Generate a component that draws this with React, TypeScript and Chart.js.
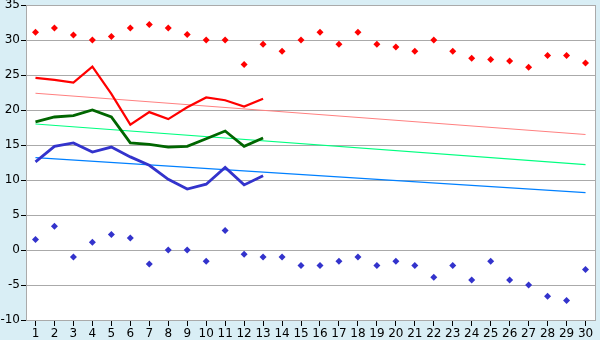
import React, { useEffect, useRef } from "react";
import { Chart, registerables } from "chart.js";

Chart.register(...registerables);

const days = Array.from({ length: 30 }, (_, i) => String(i + 1));

const recordMax = [31.1, 31.7, 30.7, 30.0, 30.5, 31.7, 32.2, 31.7, 30.8, 30.0, 30.0, 26.5, 29.4, 28.4, 30.0, 31.1, 29.4, 31.1, 29.4, 29.0, 28.4, 30.0, 28.4, 27.4, 27.2, 27.0, 26.1, 27.8, 27.8, 26.7];
const recordMin = [1.5, 3.4, -1.0, 1.1, 2.2, 1.7, -2.0, 0.0, 0.0, -1.6, 2.8, -0.6, -1.0, -1.0, -2.2, -2.2, -1.6, -1.0, -2.2, -1.6, -2.2, -3.9, -2.2, -4.3, -1.6, -4.3, -5.0, -6.6, -7.2, -2.8];
const maxTemp = [24.6, 24.3, 23.9, 26.2, 22.3, 17.9, 19.7, 18.7, 20.4, 21.8, 21.4, 20.5, 21.6];
const avgTemp = [18.3, 19.0, 19.2, 20.0, 19.0, 15.3, 15.1, 14.7, 14.8, 15.9, 17.0, 14.8, 16.0];
const minTemp = [12.6, 14.8, 15.3, 14.0, 14.7, 13.3, 12.1, 10.1, 8.7, 9.4, 11.8, 9.3, 10.6];
const trendMax = [22.4, 16.5];
const trendAvg = [18.0, 12.2];
const trendMin = [13.2, 8.2];

const trend = (v: number[]) => [
  { x: days[0], y: v[0] },
  { x: days[days.length - 1], y: v[1] },
];

export default function App() {
  const ref = useRef<HTMLCanvasElement | null>(null);
  useEffect(() => {
    document.body.style.margin = "0";
    const bgPlugin = {
      id: "bg",
      beforeDraw(chart: any) {
        const { ctx, chartArea: a } = chart;
        ctx.save();
        ctx.fillStyle = "#d9eef5";
        ctx.fillRect(0, 0, chart.width, chart.height);
        ctx.fillStyle = "#ffffff";
        ctx.fillRect(a.left, a.top, a.right - a.left, a.bottom - a.top);
        ctx.restore();
      },
      afterDraw(chart: any) {
        const { ctx, chartArea: a } = chart;
        ctx.save();
        ctx.strokeStyle = "#aaaaaa";
        ctx.lineWidth = 1;
        ctx.beginPath();
        ctx.moveTo(Math.round(a.right) + 0.5, a.top);
        ctx.lineTo(Math.round(a.right) + 0.5, a.bottom);
        ctx.stroke();
        ctx.restore();
      },
    };
    const font = { family: "'DejaVu Sans', Verdana, sans-serif", size: 12 };
    const chart = new Chart(ref.current as HTMLCanvasElement, {
      type: "line",
      data: {
        labels: days,
        datasets: [
          { data: maxTemp, borderColor: "#ff0000", borderWidth: 2.2, pointRadius: 0, tension: 0 },
          { data: avgTemp, borderColor: "#006600", borderWidth: 2.8, pointRadius: 0, tension: 0 },
          { data: minTemp, borderColor: "#3333cc", borderWidth: 2.8, pointRadius: 0, tension: 0 },
          { data: trend(trendMax) as any, borderColor: "#ff8080", borderWidth: 1.1, pointRadius: 0 },
          { data: trend(trendAvg) as any, borderColor: "#00ff80", borderWidth: 1.1, pointRadius: 0 },
          { data: trend(trendMin) as any, borderColor: "#0080ff", borderWidth: 1.1, pointRadius: 0 },
          { data: recordMax, showLine: false, pointStyle: "rectRot", pointRadius: 3.5, backgroundColor: "#ff0000", borderColor: "#ff0000", borderWidth: 0 },
          { data: recordMin, showLine: false, pointStyle: "rectRot", pointRadius: 3.5, backgroundColor: "#3333cc", borderColor: "#3333cc", borderWidth: 0 },
        ],
      },
      options: {
        animation: false,
        responsive: false,
        layout: { padding: { top: 5, right: 5, left: 0, bottom: 0 } },
        plugins: { legend: { display: false }, tooltip: { enabled: false } },
        scales: {
          x: {
            type: "category",
            offset: true,
            grid: { drawOnChartArea: false, drawTicks: true, tickLength: 6, tickColor: "#000000" },
            border: { color: "#aaaaaa" },
            ticks: { color: "#000000", font, padding: 1, maxRotation: 0, autoSkip: false },
            afterFit(scale: any) {
              scale.height = 20;
              scale.paddingLeft = 0;
              scale.paddingRight = 0;
            },
          },
          y: {
            min: -10,
            max: 35,
            grid: { color: "#aaaaaa", tickColor: "#000000", tickLength: 5 },
            border: { color: "#aaaaaa" },
            ticks: { stepSize: 5, color: "#000000", font, padding: 1 },
            afterFit(scale: any) {
              scale.width = 26;
              scale.paddingTop = 0;
              scale.paddingBottom = 0;
            },
          },
        },
      },
      plugins: [bgPlugin],
    });
    return () => chart.destroy();
  }, []);
  return (
    <div style={{ width: 600, height: 340 }}>
      <canvas ref={ref} width={600} height={340} />
    </div>
  );
}
